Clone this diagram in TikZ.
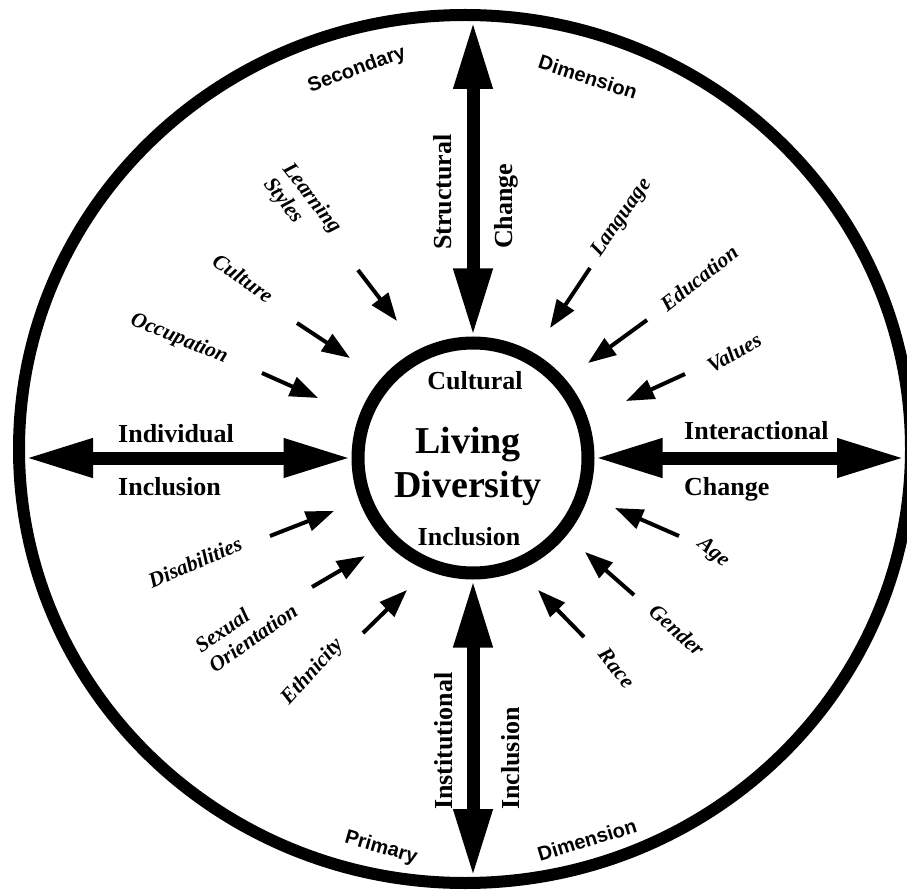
\documentclass[tikz,border=0pt]{standalone}
\usepackage{fontspec}
\setmainfont{Liberation Serif}
\newfontfamily\dimfont{Liberation Sans}
\usetikzlibrary{arrows.meta}

\tikzset{
  axis/.style={line width=13pt,
    {Triangle[length=68pt,width=36pt]}-{Triangle[length=68pt,width=36pt]}},
  feed/.style={line width=4pt, -{Triangle[length=28pt,width=20pt]}},
  axislabel/.style={font=\bfseries\fontsize{26}{30}\selectfont, inner sep=0pt},
  factor/.style={font=\bfseries\itshape\fontsize{21.5}{24}\selectfont,
    align=left, inner sep=0pt},
  dimlabel/.style={font=\dimfont\bfseries\fontsize{20}{22}\selectfont, inner sep=0pt},
}

\begin{document}
\begin{tikzpicture}[x=1pt,y=-1pt]
  \useasboundingbox (0,0) rectangle (907,890);
  % rings
  \coordinate (rim) at (465,449);
  \draw[line width=12pt] (rim) ellipse [x radius=446, y radius=434];
  \node[draw, circle, line width=13pt, minimum size=230pt, inner sep=0pt] (core) at (473,458) {};
  % inner edge of the rim
  \path (core.north |- rim) ++(0,-428) coordinate (up);
  \path (core.south |- rim) ++(0,428)  coordinate (down);
  \path (rim |- core.west)  ++(-440,0) coordinate (left);
  \path (rim |- core.east)  ++(440,0)  coordinate (right);
  % the four axes
  \draw[axis] (core.north) -- (up);
  \draw[axis] (core.south) -- (down);
  \draw[axis] (core.west)  -- (left);
  \draw[axis] (core.east)  -- (right);
  % hub
  \node[axislabel, anchor=base] (cult) at (475,389) {Cultural};
  \node[font=\bfseries\fontsize{38}{44}\selectfont, align=center, inner sep=0pt]
        (hub) at (468,466) {Living\\Diversity};
  \node[axislabel, anchor=base] (incl) at (469,545) {Inclusion};
  % axis labels
  \node[axislabel, anchor=base west] (indiv)  at (118,442) {Individual};
  \node[axislabel, anchor=base west] (indinc) at (118,495) {Inclusion};
  \node[axislabel, anchor=base west] (inter)  at (684,439) {Interactional};
  \node[axislabel, anchor=base west] (intch)  at (684,495) {Change};
  \node[axislabel, anchor=base west, rotate=90] (struct) at (451,250) {Structural};
  \node[axislabel, anchor=base west, rotate=90] (strch)  at (512,249) {Change};
  \node[axislabel, anchor=base west, rotate=90] (inst)   at (452,810) {Institutional};
  \node[axislabel, anchor=base west, rotate=90] (instin) at (519,810) {Inclusion};
  % dimensions
  \node[dimlabel, rotate=20]  (sec)  at (357,70)  {Secondary};
  \node[dimlabel, rotate=-18] (secd) at (588,77)  {Dimension};
  \node[dimlabel, rotate=-16] (pri)  at (381,848) {Primary};
  \node[dimlabel, rotate=17]  (prid) at (587,840) {Dimension};
  % factors
  \node[factor, rotate=-52] (learn)  at (302,206) {Learning\\Styles};
  \node[factor, rotate=-35] (cultr)  at (243,278) {Culture};
  \node[factor, rotate=-22] (occup)  at (179,339) {Occupation};
  \node[factor, rotate=55]  (lang)   at (622,218) {Language};
  \node[factor, rotate=38]  (educ)   at (699,278) {Education};
  \node[factor, rotate=30]  (values) at (734,353) {Values};
  \node[factor, rotate=23]  (disab)  at (195,562) {Disabilities};
  \node[factor, rotate=35]  (sexor)  at (246,628) {Sexual\\Orientation};
  \node[factor, rotate=48]  (ethn)   at (313,672) {Ethnicity};
  \node[factor, rotate=-40] (age)    at (713,553) {Age};
  \node[factor, rotate=-42] (gender) at (677,630) {Gender};
  \node[factor, rotate=-52] (race)   at (617,668) {Race};
  % small arrows into the hub
  \foreach \n/\sx/\sy/\tx/\ty in {learn/358/270/397/321, cultr/297/323/350/358,
      occup/262/373/318/398, lang/590/268/550/328, educ/647/320/588/363,
      values/685/374/626/401, disab/270/536/334/511, sexor/312/587/365/556,
      ethn/363/633/407/590, age/679/536/615/508, gender/634/595/585/552,
      race/584/637/538/590}
  {
    \coordinate (\n-s) at (\sx,\sy);
    \coordinate (\n-t) at (\tx,\ty);
    \draw[feed] (\n-s) -- (\n-t);
  }
\end{tikzpicture}
\end{document}
